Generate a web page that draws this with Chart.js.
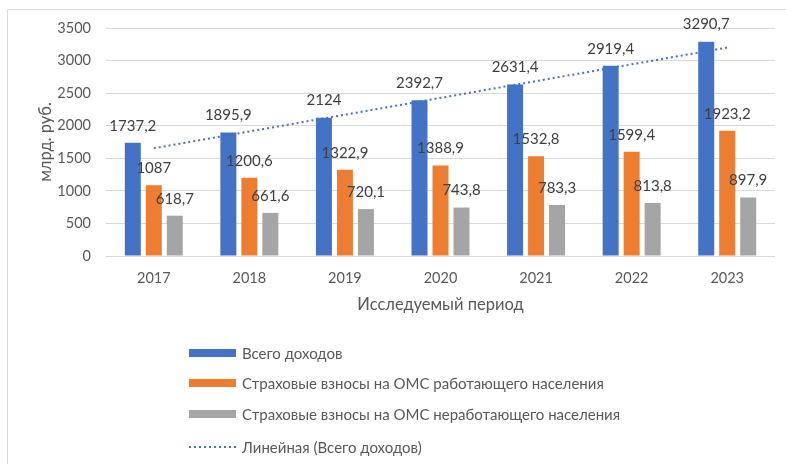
<!DOCTYPE html>
<html>
<head>
<meta charset="utf-8">
<script src="https://cdn.jsdelivr.net/npm/chart.js@4/dist/chart.umd.min.js"></script>
<style>
  html, body { margin: 0; padding: 0; background: #ffffff; }
  #wrap { position: relative; width: 786px; height: 464px; }
</style>
</head>
<body>
<div id="wrap"><canvas id="c" width="786" height="464"></canvas></div>
<script>
const categories = ['2017', '2018', '2019', '2020', '2021', '2022', '2023'];
const totalIncome = [1737.2, 1895.9, 2124, 2392.7, 2631.4, 2919.4, 3290.7];
const workingContrib = [1087, 1200.6, 1322.9, 1388.9, 1532.8, 1599.4, 1923.2];
const nonWorkingContrib = [618.7, 661.6, 720.1, 743.8, 783.3, 813.8, 897.9];
// trend line end points (straight dotted line)
const trendLine = [1654, null, null, null, null, null, 3200];
const seriesNames = [
  'Всего доходов',
  'Страховые взносы на ОМС работающего населения',
  'Страховые взносы на ОМС неработающего населения',
  'Линейная (Всего доходов)'
];
const yMin = 0, yMax = 3500, yStep = 500;
const yTitle = 'млрд. руб.';
const xTitle = 'Исследуемый период';

const FONT = 'Lato, "Open Sans", sans-serif';
const TEXT = '#595959';
const LABEL = '#404040';
const BLUE = '#4472C4', ORANGE = '#ED7D31', GRAY = '#A5A5A5';

const fmt = v => String(v).replace('.', ',');

const frameAndLabels = {
  id: 'frameAndLabels',
  beforeDraw(chart) {
    const ctx = chart.ctx;
    ctx.save();
    ctx.strokeStyle = '#d9d9d9';
    ctx.lineWidth = 1;
    ctx.beginPath();
    ctx.moveTo(7.5, 464);
    ctx.lineTo(7.5, 9.5);
    ctx.lineTo(786, 9.5);
    ctx.stroke();
    ctx.restore();
  },
  afterDraw(chart) {
    const ctx = chart.ctx;
    ctx.save();
    // data labels for bar datasets
    ctx.font = '15px ' + FONT;
    ctx.fillStyle = LABEL;
    ctx.textAlign = 'center';
    ctx.textBaseline = 'middle';
    chart.data.datasets.forEach((ds, i) => {
      if (ds.type === 'line') return;
      const meta = chart.getDatasetMeta(i);
      meta.data.forEach((el, j) => {
        ctx.fillText(fmt(ds.data[j]), el.x, el.y - 17);
      });
    });
    // legend
    const rows = [353, 383, 414, 447];
    const bx = 189, bw = 47, tx = 242;
    ctx.font = '15px ' + FONT;
    ctx.textAlign = 'left';
    ctx.textBaseline = 'middle';
    chart.data.datasets.forEach((ds, i) => {
      const y = rows[i];
      if (ds.type === 'line') {
        ctx.strokeStyle = ds.borderColor;
        ctx.lineWidth = 2;
        ctx.setLineDash([2, 3]);
        ctx.beginPath();
        ctx.moveTo(bx, y);
        ctx.lineTo(bx + bw, y);
        ctx.stroke();
        ctx.setLineDash([]);
      } else {
        ctx.fillStyle = ds.backgroundColor;
        ctx.fillRect(bx, y - 4, bw, 8);
      }
      ctx.fillStyle = TEXT;
      ctx.fillText(ds.label, tx, y + 1);
    });
    ctx.restore();
  }
};

new Chart(document.getElementById('c'), {
  data: {
    labels: categories,
    datasets: [
      { type: 'bar', label: seriesNames[0], data: totalIncome, backgroundColor: BLUE, order: 1 },
      { type: 'bar', label: seriesNames[1], data: workingContrib, backgroundColor: ORANGE, order: 1 },
      { type: 'bar', label: seriesNames[2], data: nonWorkingContrib, backgroundColor: GRAY, order: 1 },
      { type: 'line', label: seriesNames[3], data: trendLine, borderColor: BLUE, borderWidth: 2,
        borderDash: [2, 3], pointRadius: 0, spanGaps: true, fill: false, order: 0 }
    ]
  },
  options: {
    responsive: false,
    animation: false,
    devicePixelRatio: 1,
    categoryPercentage: 0.659,
    barPercentage: 0.762,
    layout: { padding: { left: 10, right: 11, top: 28, bottom: 148 } },
    plugins: { legend: { display: false }, tooltip: { enabled: false } },
    scales: {
      x: {
        grid: { display: false, drawTicks: false },
        border: { display: false },
        ticks: { color: TEXT, font: { family: FONT, size: 14.5 }, padding: 14 },
        title: { display: true, text: xTitle, color: TEXT, font: { family: FONT, size: 16.5 },
                 padding: { top: 0, bottom: 1 } },
        afterFit(s) { s.height = 60; }
      },
      y: {
        min: yMin, max: yMax,
        grid: { color: '#d9d9d9', drawTicks: false },
        border: { display: false },
        ticks: { stepSize: yStep, color: TEXT, font: { family: FONT, size: 14.5 }, padding: 15,
                 callback: v => String(v) },
        title: { display: true, text: yTitle, color: TEXT, font: { family: FONT, size: 16.5 },
                 padding: { top: 26, bottom: 0 } },
        afterFit(s) { s.width = 96; }
      }
    }
  },
  plugins: [frameAndLabels]
});
</script>
</body>
</html>
